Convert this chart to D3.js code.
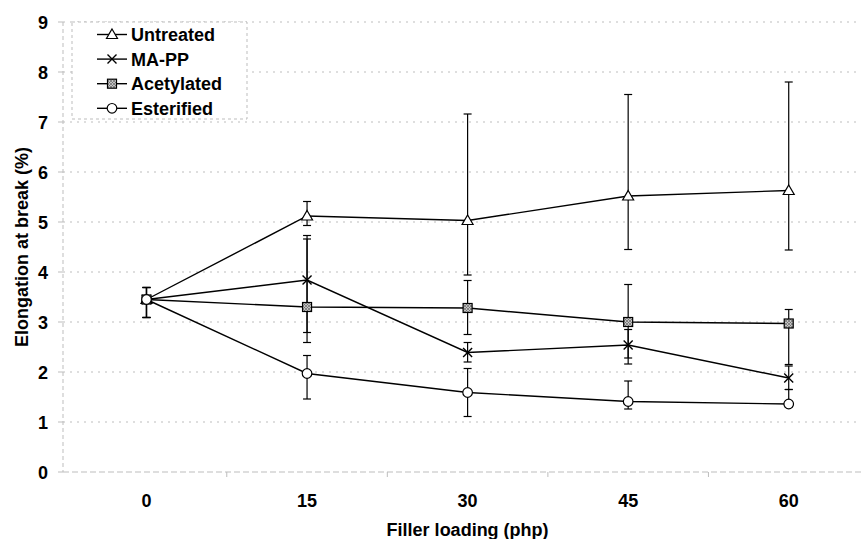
<!DOCTYPE html>
<html><head><meta charset="utf-8">
<script src="https://cdn.jsdelivr.net/npm/d3@7"></script>
<style>
body{margin:0;background:#fff}
svg{display:block}
text{font-family:"Liberation Sans",Arial,sans-serif;font-weight:bold;fill:#000}
</style>
</head><body><svg id="c" width="861" height="539"></svg>
<script>
const fillerLoading = [0, 15, 30, 45, 60];
const xTickLabels = ["0", "15", "30", "45", "60"];
const yTickValues = [0, 1, 2, 3, 4, 5, 6, 7, 8, 9];
const seriesNames = ["Untreated", "MA-PP", "Acetylated", "Esterified"];
const untreated    = [3.45, 5.12, 5.03, 5.52, 5.63];
const untreatedHi  = [3.69, 5.41, 7.16, 7.55, 7.80];
const untreatedLo  = [3.09, 4.93, 3.94, 4.45, 4.44];
const mapp         = [3.45, 3.84, 2.39, 2.54, 1.88];
const mappHi       = [3.69, 4.73, 2.59, 2.85, 2.12];
const mappLo       = [3.09, 2.79, 2.20, 2.16, 1.65];
const acetylated   = [3.45, 3.30, 3.28, 3.00, 2.97];
const acetylatedHi = [3.69, 4.66, 3.83, 3.75, 3.25];
const acetylatedLo = [3.09, 2.59, 2.75, 2.28, 2.15];
const esterified   = [3.45, 1.97, 1.59, 1.41, 1.36];
const esterifiedHi = [3.69, 2.33, 2.07, 1.82, 1.65];
const esterifiedLo = [3.09, 1.46, 1.11, 1.26, 1.30];

const markerTypes = ["triangle", "cross", "square", "circle"];
const seriesVals = [untreated, mapp, acetylated, esterified];
const seriesHi = [untreatedHi, mappHi, acetylatedHi, esterifiedHi];
const seriesLo = [untreatedLo, mappLo, acetylatedLo, esterifiedLo];
const series = seriesNames.map((n, i) => ({
  name: n, marker: markerTypes[i],
  pts: fillerLoading.map((x, j) => ({x, y: seriesVals[i][j], hi: seriesHi[i][j], lo: seriesLo[i][j]}))
}));

const svg = d3.select("#c");
const defs = svg.append("defs");
const pat = defs.append("pattern").attr("id", "hatch").attr("patternUnits", "userSpaceOnUse")
  .attr("width", 3).attr("height", 3);
pat.append("rect").attr("width", 3).attr("height", 3).attr("fill", "#c4c4c4");
pat.append("path").attr("d", "M0,0L3,3M3,0L0,3").attr("stroke", "#6a6a6a").attr("stroke-width", 0.7);

const x = d3.scaleLinear().domain([-7.8, 67.5]).range([63, 869]);
const y = d3.scaleLinear().domain([0, 9]).range([472, 22]);
const gridColor = "#bdbdbd";

// gridlines
svg.append("g").selectAll("line").data(yTickValues).join("line")
  .attr("x1", x(-7.8)).attr("x2", 861)
  .attr("y1", d => y(d)).attr("y2", d => y(d))
  .attr("stroke", gridColor).attr("stroke-width", 1)
  .attr("stroke-dasharray", d => d === 0 ? "6,3" : "2,5");

// y axis line + ticks
svg.append("line").attr("x1", x(-7.8)).attr("x2", x(-7.8)).attr("y1", y(9)).attr("y2", y(0))
  .attr("stroke", gridColor).attr("stroke-dasharray", "4,3");
svg.append("g").selectAll("line").data(yTickValues).join("line")
  .attr("x1", x(-7.8) - 5).attr("x2", x(-7.8)).attr("y1", d => y(d)).attr("y2", d => y(d))
  .attr("stroke", gridColor);
// x category boundary ticks
const bounds = fillerLoading.map(v => v + 7.5);
svg.append("g").selectAll("line").data(bounds).join("line")
  .attr("x1", d => x(d)).attr("x2", d => x(d)).attr("y1", y(0)).attr("y2", y(0) + 5)
  .attr("stroke", gridColor);

// y tick labels
svg.append("g").selectAll("text").data(yTickValues).join("text")
  .attr("x", 48).attr("y", d => y(d) + 6.5).attr("text-anchor", "end")
  .attr("font-size", 18).text(d => d);
// x tick labels
svg.append("g").selectAll("text").data(fillerLoading).join("text")
  .attr("x", d => x(d)).attr("y", 507).attr("text-anchor", "middle")
  .attr("font-size", 18).text((d, i) => xTickLabels[i]);
// axis titles
svg.append("text").attr("x", x(30)).attr("y", 536).attr("text-anchor", "middle")
  .attr("font-size", 18).text("Filler loading (php)");
svg.append("text").attr("transform", `translate(28,${(y(0) + y(9)) / 2}) rotate(-90)`)
  .attr("text-anchor", "middle").attr("font-size", 18).text("Elongation at break (%)");

// lines
const line = d3.line().x(d => x(d.x)).y(d => y(d.y));
svg.append("g").selectAll("path").data(series).join("path")
  .attr("d", d => line(d.pts)).attr("fill", "none").attr("stroke", "#000").attr("stroke-width", 1.4);

// error bars
const eb = svg.append("g").attr("stroke", "#000").attr("stroke-width", 1.2);
series.forEach(s => {
  s.pts.forEach(p => {
    eb.append("line").attr("x1", x(p.x)).attr("x2", x(p.x)).attr("y1", y(p.hi)).attr("y2", y(p.lo));
    [p.hi, p.lo].forEach(v => {
      eb.append("line").attr("x1", x(p.x) - 4).attr("x2", x(p.x) + 4).attr("y1", y(v)).attr("y2", y(v));
    });
  });
});

function drawMarker(g, type, cx, cy) {
  if (type === "triangle") {
    g.append("path").attr("d", `M${cx},${cy - 5.5}L${cx + 5.5},${cy + 4}L${cx - 5.5},${cy + 4}Z`)
      .attr("fill", "#fff").attr("stroke", "#000").attr("stroke-width", 1.2);
  } else if (type === "cross") {
    g.append("path").attr("d", `M${cx - 4.5},${cy - 4.5}L${cx + 4.5},${cy + 4.5}M${cx + 4.5},${cy - 4.5}L${cx - 4.5},${cy + 4.5}`)
      .attr("stroke", "#000").attr("stroke-width", 1.4);
  } else if (type === "square") {
    g.append("rect").attr("x", cx - 4.5).attr("y", cy - 4.5).attr("width", 9).attr("height", 9)
      .attr("fill", "url(#hatch)").attr("stroke", "#000").attr("stroke-width", 1.2);
  } else {
    g.append("circle").attr("cx", cx).attr("cy", cy).attr("r", 4.8)
      .attr("fill", "#fff").attr("stroke", "#000").attr("stroke-width", 1.2);
  }
}
const mg = svg.append("g");
series.forEach(s => s.pts.forEach(p => drawMarker(mg, s.marker, x(p.x), y(p.y))));

// legend
const lg = svg.append("g");
lg.append("rect").attr("x", 72).attr("y", 22).attr("width", 175).attr("height", 97)
  .attr("fill", "#fff").attr("stroke", gridColor).attr("stroke-dasharray", "3,3");
series.forEach((s, i) => {
  const ry = 34.5 + i * 24.6;
  lg.append("line").attr("x1", 97).attr("x2", 127).attr("y1", ry).attr("y2", ry)
    .attr("stroke", "#000").attr("stroke-width", 1.4);
  drawMarker(lg, s.marker, 112, ry);
  lg.append("text").attr("x", 131).attr("y", ry + 6.5).attr("font-size", 18).text(s.name);
});
</script>
</body></html>
